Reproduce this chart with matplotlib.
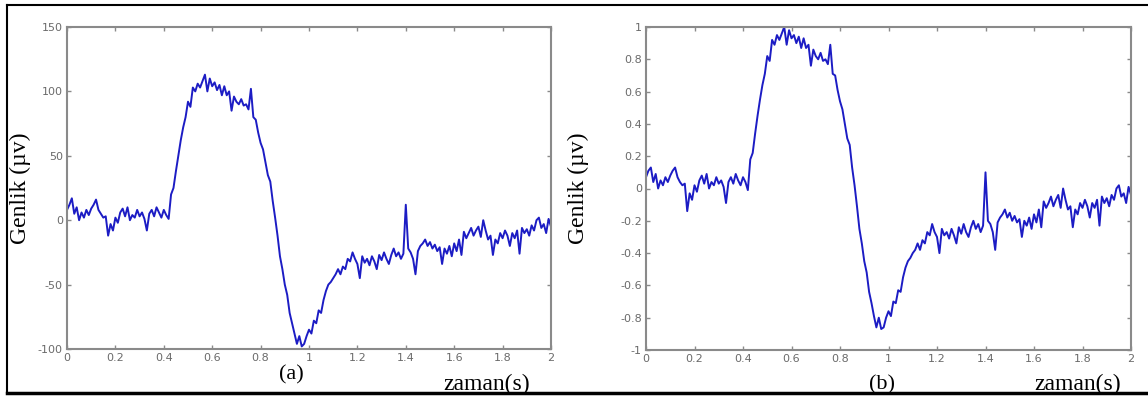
import numpy as np
import matplotlib
matplotlib.use("Agg")
import matplotlib.pyplot as plt
from matplotlib.lines import Line2D
from matplotlib.ticker import FuncFormatter

# sample times (s), one reading every 0.01 s
time_s = [round(i * 0.01, 2) for i in range(201)]

# panel (a): amplitude in microvolts
genlik_a = [
    8, 12, 17, 5, 10, 0, 6, 2, 8, 4,
    9, 12, 16, 8, 5, 2, 3, -12, -3, -8,
    2, -2, 6, 9, 3, 10, 0, 4, 2, 8,
    3, 6, 1, -8, 5, 8, 3, 10, 6, 2,
    8, 4, 1, 20, 25, 38, 50, 62, 72, 80,
    92, 88, 103, 100, 106, 103, 108, 113, 100, 110,
    104, 107, 101, 105, 97, 104, 97, 100, 85, 96,
    92, 90, 94, 89, 90, 86, 102, 80, 78, 68,
    60, 55, 45, 35, 30, 15, 2, -12, -28, -38,
    -50, -58, -72, -80, -88, -96, -90, -98, -96, -90,
    -85, -88, -78, -80, -70, -72, -62, -55, -50, -48,
    -45, -42, -38, -42, -36, -38, -30, -32, -25, -30,
    -34, -45, -28, -33, -30, -35, -28, -32, -38, -27,
    -31, -25, -30, -34, -27, -22, -28, -25, -30, -26,
    12, -22, -25, -30, -42, -24, -20, -18, -15, -20,
    -17, -22, -19, -24, -21, -34, -22, -26, -20, -28,
    -18, -24, -15, -27, -9, -14, -10, -6, -12, -8,
    -5, -13, 0, -8, -15, -12, -27, -15, -18, -10,
    -14, -8, -12, -20, -10, -14, -8, -26, -6, -10,
    -7, -12, -4, -8, 0, 2, -6, -3, -10, 1,
    -5,
]

# panel (b): normalised amplitude
genlik_b = [
    0.07, 0.11, 0.13, 0.04, 0.09, 0.0, 0.05, 0.02, 0.07, 0.04,
    0.08, 0.11, 0.13, 0.07, 0.04, 0.02, 0.03, -0.14, -0.03, -0.07,
    0.02, -0.02, 0.05, 0.08, 0.03, 0.09, 0.0, 0.04, 0.02, 0.07,
    0.03, 0.05, 0.01, -0.09, 0.04, 0.07, 0.03, 0.09, 0.05, 0.02,
    0.07, 0.04, -0.01, 0.18, 0.22, 0.34, 0.45, 0.55, 0.64, 0.71,
    0.82, 0.79, 0.92, 0.89, 0.95, 0.92, 0.96, 1.0, 0.89, 0.98,
    0.93, 0.95, 0.9, 0.94, 0.87, 0.93, 0.87, 0.89, 0.76, 0.86,
    0.82, 0.8, 0.84, 0.79, 0.8, 0.77, 0.89, 0.71, 0.7, 0.61,
    0.54, 0.49, 0.4, 0.31, 0.27, 0.13, 0.02, -0.11, -0.25, -0.34,
    -0.45, -0.52, -0.64, -0.71, -0.79, -0.86, -0.8, -0.87, -0.86, -0.8,
    -0.76, -0.79, -0.7, -0.71, -0.63, -0.64, -0.55, -0.49, -0.45, -0.43,
    -0.4, -0.38, -0.34, -0.38, -0.32, -0.34, -0.27, -0.29, -0.22, -0.27,
    -0.3, -0.4, -0.25, -0.29, -0.27, -0.31, -0.25, -0.29, -0.34, -0.24,
    -0.28, -0.22, -0.27, -0.3, -0.24, -0.2, -0.25, -0.22, -0.27, -0.23,
    0.1, -0.2, -0.22, -0.27, -0.38, -0.21, -0.18, -0.16, -0.13, -0.18,
    -0.15, -0.2, -0.17, -0.21, -0.19, -0.3, -0.2, -0.23, -0.18, -0.25,
    -0.16, -0.21, -0.13, -0.24, -0.08, -0.12, -0.09, -0.05, -0.11, -0.07,
    -0.04, -0.12, 0.0, -0.07, -0.13, -0.11, -0.24, -0.13, -0.16, -0.09,
    -0.12, -0.07, -0.11, -0.18, -0.09, -0.12, -0.07, -0.23, -0.05, -0.09,
    -0.06, -0.11, -0.04, -0.07, 0.0, 0.02, -0.05, -0.03, -0.09, 0.01,
    -0.04,
]

x_ticks = [0, 0.2, 0.4, 0.6, 0.8, 1.0, 1.2, 1.4, 1.6, 1.8, 2.0]
y_ticks_a = [-100, -50, 0, 50, 100, 150]
y_ticks_b = [-1, -0.8, -0.6, -0.4, -0.2, 0, 0.2, 0.4, 0.6, 0.8, 1]

LINE_COLOR = "#1c1cc4"
FRAME_COLOR = "#8a8a8a"
TICK_TEXT = "#6a6a6a"
SERIF = ["Liberation Serif", "DejaVu Serif"]

fig = plt.figure(figsize=(11.48, 3.96), dpi=100)
fmt = FuncFormatter(lambda v, pos: "%g" % round(v, 2))


def draw_panel(rect, y, yticks, ylim, tag, ylab_x, tag_xy, zaman_xy):
    ax = fig.add_axes(rect)
    ax.plot(time_s, y, color=LINE_COLOR, linewidth=1.4)
    ax.set_xlim(0, 2)
    ax.set_ylim(*ylim)
    ax.set_xticks(x_ticks)
    ax.set_yticks(yticks)
    ax.xaxis.set_major_formatter(fmt)
    ax.yaxis.set_major_formatter(fmt)
    ax.tick_params(direction="in", length=3, width=1, color=FRAME_COLOR,
                   labelcolor=TICK_TEXT, labelsize=8, top=True, right=True, pad=3)
    for sp in ax.spines.values():
        sp.set_color(FRAME_COLOR)
        sp.set_linewidth(1.5)
    fig.text(ylab_x, rect[1] + rect[3] / 2, "Genlik (µv)", rotation=90,
             ha="center", va="center", fontsize=17, family=SERIF)
    fig.text(tag_xy[0], tag_xy[1], tag, ha="center", va="center",
             fontsize=16, family=SERIF)
    fig.text(zaman_xy[0], zaman_xy[1], "zaman(s)", ha="center", va="center",
             fontsize=17, family=SERIF)
    return ax


draw_panel([67 / 1148, 1 - 349 / 396, 484 / 1148, 322 / 396], genlik_a,
           y_ticks_a, (-100, 150), "(a)", 20 / 1148,
           (291 / 1148, 1 - 375 / 396), (487 / 1148, 1 - 384 / 396))
draw_panel([646 / 1148, 1 - 350 / 396, 485 / 1148, 323 / 396], genlik_b,
           y_ticks_b, (-1, 1), "(b)", 578 / 1148,
           (882 / 1148, 1 - 385 / 396), (1078 / 1148, 1 - 384 / 396))

# outer frame of the original figure
W, H = 1148, 396
fig.add_artist(Line2D([7 / W, 1], [1 - 5 / H, 1 - 5 / H], color="black", lw=1.5))
fig.add_artist(Line2D([7 / W, 7 / W], [1 - 5 / H, 1 - 393 / H], color="black", lw=1.5))
fig.add_artist(Line2D([7 / W, 1], [1 - 393 / H, 1 - 393 / H], color="black", lw=2.5))

fig.savefig("out.png", dpi=100)
